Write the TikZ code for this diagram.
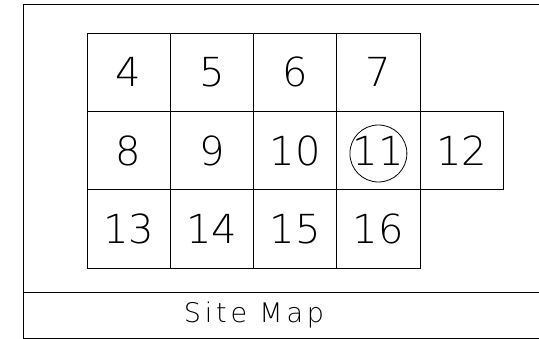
\documentclass[tikz,border=0pt]{standalone}
\usepackage{fontspec}
\newfontfamily\cadfont{DejaVu Sans ExtraLight}
\begin{document}
\begin{tikzpicture}[x=1pt, y=-1pt, line width=0.8pt,
    cell/.style={draw, rectangle, inner sep=0pt, minimum width=83.25pt, minimum height=78.33pt,
      font=\cadfont\fontsize{40}{40}\selectfont},
    ring/.style={draw, circle, inner sep=0pt, minimum size=57pt}]
        \useasboundingbox (0, 0) rectangle (539, 339);

        % --- SHEET FRAME ---
        \draw (539, 4) -- (23, 4) -- (23, 338) -- (539, 338);
        \draw (23, 292) -- (539, 292); % title strip
        \node[font=\cadfont\addfontfeature{LetterSpace=14}\fontsize{27}{27}\selectfont] (title) at (254, 315) {Site Map};

        % --- GRID OF SITES ---
        \foreach \x/\y/\n in {128.6/72.2/4, 211.9/72.2/5, 295.1/72.2/6, 378.4/72.2/7,
                              128.6/150.5/8, 211.9/150.5/9, 295.1/150.5/10, 378.4/150.5/11, 461.6/150.5/12,
                              128.6/228.8/13, 211.9/228.8/14, 295.1/228.8/15, 378.4/228.8/16} {
            \node[cell] (c\n) at (\x, \y) {\n};
        }
        % marked site
        \node[ring, yshift=-3pt] (mark) at (c11) {};

    \end{tikzpicture}
\end{document}
